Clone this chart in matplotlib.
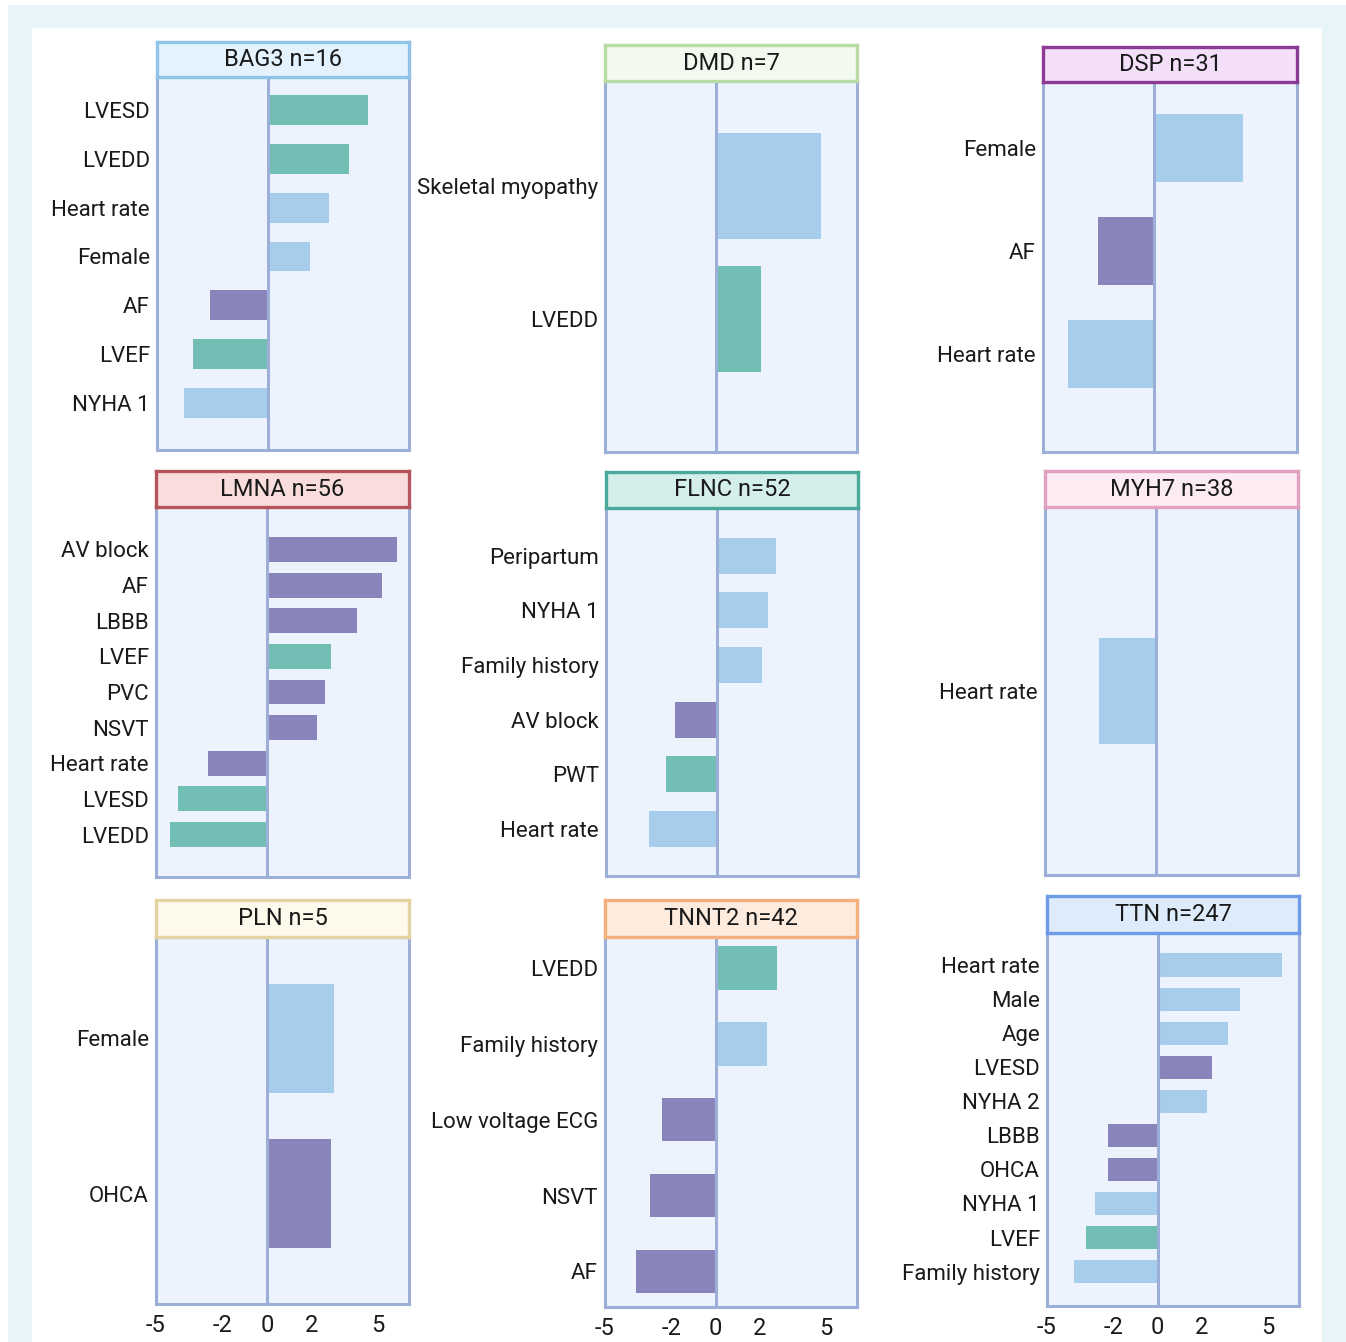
import numpy as np
import matplotlib
matplotlib.use("Agg")
import matplotlib.pyplot as plt
from matplotlib.patches import Rectangle

plt.rcParams["font.family"] = ["Roboto", "DejaVu Sans"]

# ---- data: standardised effect per feature, per gene ----
GENES = ["BAG3", "DMD", "DSP", "LMNA", "FLNC", "MYH7", "PLN", "TNNT2", "TTN"]
N_CARRIERS = [16, 7, 31, 56, 52, 38, 5, 42, 247]

BAG3_LABELS = ["LVESD", "LVEDD", "Heart rate", "Female", "AF", "LVEF", "NYHA 1"]
BAG3_VALUES = [4.55, 3.69, 2.79, 1.94, -2.61, -3.38, -3.78]
BAG3_GROUPS = ["echo", "echo", "clin", "clin", "ecg", "echo", "clin"]

DMD_LABELS = ["Skeletal myopathy", "LVEDD"]
DMD_VALUES = [4.77, 2.07]
DMD_GROUPS = ["clin", "echo"]

DSP_LABELS = ["Female", "AF", "Heart rate"]
DSP_VALUES = [3.96, -2.52, -3.87]
DSP_GROUPS = ["clin", "ecg", "clin"]

LMNA_LABELS = ["AV block", "AF", "LBBB", "LVEF", "PVC", "NSVT", "Heart rate", "LVESD", "LVEDD"]
LMNA_VALUES = [5.86, 5.18, 4.05, 2.88, 2.61, 2.25, -2.66, -4.00, -4.37]
LMNA_GROUPS = ["ecg", "ecg", "ecg", "echo", "ecg", "ecg", "ecg", "echo", "echo"]

FLNC_LABELS = ["Peripartum", "NYHA 1", "Family history", "AV block", "PWT", "Heart rate"]
FLNC_VALUES = [2.70, 2.34, 2.07, -1.89, -2.30, -3.06]
FLNC_GROUPS = ["clin", "clin", "clin", "ecg", "echo", "clin"]

MYH7_LABELS = ["Heart rate"]
MYH7_VALUES = [-2.57]
MYH7_GROUPS = ["clin"]

PLN_LABELS = ["Female", "OHCA"]
PLN_VALUES = [3.02, 2.88]
PLN_GROUPS = ["clin", "ecg"]

TNNT2_LABELS = ["LVEDD", "Family history", "Low voltage ECG", "NSVT", "AF"]
TNNT2_VALUES = [2.79, 2.34, -2.43, -2.97, -3.60]
TNNT2_GROUPS = ["echo", "clin", "ecg", "ecg", "ecg"]

TTN_LABELS = ["Heart rate", "Male", "Age", "LVESD", "NYHA 2", "LBBB", "OHCA",
              "NYHA 1", "LVEF", "Family history"]
TTN_VALUES = [5.63, 3.74, 3.20, 2.48, 2.25, -2.25, -2.25, -2.84, -3.24, -3.78]
TTN_GROUPS = ["clin", "clin", "clin", "ecg", "clin", "ecg", "ecg", "clin", "echo", "clin"]

X_TICKS = [-5, -2, 0, 2, 5]
X_TICK_LABELS = ["-5", "-2", "0", "2", "5"]

PANEL_DATA = {
    "BAG3": (BAG3_LABELS, BAG3_VALUES, BAG3_GROUPS),
    "DMD": (DMD_LABELS, DMD_VALUES, DMD_GROUPS),
    "DSP": (DSP_LABELS, DSP_VALUES, DSP_GROUPS),
    "LMNA": (LMNA_LABELS, LMNA_VALUES, LMNA_GROUPS),
    "FLNC": (FLNC_LABELS, FLNC_VALUES, FLNC_GROUPS),
    "MYH7": (MYH7_LABELS, MYH7_VALUES, MYH7_GROUPS),
    "PLN": (PLN_LABELS, PLN_VALUES, PLN_GROUPS),
    "TNNT2": (TNNT2_LABELS, TNNT2_VALUES, TNNT2_GROUPS),
    "TTN": (TTN_LABELS, TTN_VALUES, TTN_GROUPS),
}

# ---- styling ----
GROUP_COLORS = {"echo": "#72BDB4", "clin": "#A6CDEB", "ecg": "#8985BA"}
PANEL_FACE = "#EDF3FC"
PANEL_EDGE = "#9BAFD9"
TEXT = "#1A1A1A"

# title box (fill, edge) per gene
TITLE_STYLE = {
    "BAG3": ("#E3F2FD", "#8FC4E8"),
    "DMD": ("#F2F9EE", "#B8DCA3"),
    "DSP": ("#F3DFF7", "#8C3A94"),
    "LMNA": ("#F9DDDD", "#B5555B"),
    "FLNC": ("#D4EEEA", "#4BA99B"),
    "MYH7": ("#FDEBF4", "#E2A1BF"),
    "PLN": ("#FDF9EB", "#E3D3A1"),
    "TNNT2": ("#FDEBDD", "#F4AF7E"),
    "TTN": ("#DDEBFB", "#6F9CE6"),
}

# panel geometry in pixels: x0, x1, panel top, panel bottom, title top
GEOM = {
    "BAG3": (157, 409, 77, 450, 42),
    "DMD": (605, 857, 81, 452, 45),
    "DSP": (1043, 1297, 82, 452, 47),
    "LMNA": (156, 409, 507, 877, 471),
    "FLNC": (606, 858, 508, 876, 472),
    "MYH7": (1045, 1298, 507, 875, 471),
    "PLN": (156, 409, 937, 1304, 900),
    "TNNT2": (605, 857, 937, 1307, 900),
    "TTN": (1047, 1299, 933, 1306, 896),
}

# vertical padding above/below the bars (in category units) and bar thickness
VPAD = {
    "BAG3": (0.68, 0.97, 0.61),
    "DMD": (0.79, 1.00, 0.80),
    "DSP": (0.64, 0.95, 0.66),
    "LMNA": (1.19, 1.19, 0.70),
    "FLNC": (0.87, 0.86, 0.66),
    "MYH7": (1.38, 1.38, 0.80),
    "PLN": (0.65, 0.71, 0.70),
    "TNNT2": (0.41, 0.47, 0.57),
    "TTN": (0.94, 1.01, 0.68),
}
BOTTOM_ROW = {"PLN", "TNNT2", "TTN"}

W, H = 1346, 1342
fig = plt.figure(figsize=(W / 100, H / 100), dpi=100)
fig.patch.set_facecolor("white")

# outer frame
fig.add_artist(Rectangle((8 / W, 0), (W - 8) / W, (H - 5) / H,
                         transform=fig.transFigure, facecolor="#E8F5F8",
                         edgecolor="none", zorder=0))
fig.add_artist(Rectangle((32 / W, 0), (1322 - 32) / W, (H - 28) / H,
                         transform=fig.transFigure, facecolor="white",
                         edgecolor="none", zorder=0))


def rect(x0, x1, ytop, ybot):
    return [x0 / W, 1 - ybot / H, (x1 - x0) / W, (ybot - ytop) / H]


for gene, n in zip(GENES, N_CARRIERS):
    labels, values, groups = PANEL_DATA[gene]
    x0, x1, ptop, pbot, ttop = GEOM[gene]
    top_pad, bot_pad, bar_h = VPAD[gene]

    ax = fig.add_axes(rect(x0, x1, ptop, pbot))
    ax.set_facecolor(PANEL_FACE)
    pos = np.arange(len(labels))
    ax.barh(pos, values, height=bar_h,
            color=[GROUP_COLORS[g] for g in groups], zorder=2)
    ax.axvline(0, color=PANEL_EDGE, lw=2.2, zorder=3)
    ax.set_xlim(-5, 6.4)
    ax.set_ylim(len(labels) - 1 + bot_pad, -top_pad)
    ax.set_yticks(pos)
    ax.set_yticklabels(labels, fontsize=16, color=TEXT)
    ax.tick_params(axis="y", length=0, pad=5)
    for sp in ax.spines.values():
        sp.set_color(PANEL_EDGE)
        sp.set_linewidth(2.2)
    if gene in BOTTOM_ROW:
        ax.set_xticks(X_TICKS)
        ax.set_xticklabels(X_TICK_LABELS, fontsize=17, color=TEXT)
        ax.tick_params(axis="x", length=0, pad=7)
    else:
        ax.set_xticks([])

    fill, edge = TITLE_STYLE[gene]
    tax = fig.add_axes(rect(x0, x1, ttop, ptop))
    tax.set_facecolor(fill)
    tax.set_xticks([])
    tax.set_yticks([])
    for sp in tax.spines.values():
        sp.set_color(edge)
        sp.set_linewidth(2.4)
    tax.text(0.5, 0.5, f"{gene} n={n}", ha="center", va="center",
             fontsize=17, color=TEXT, transform=tax.transAxes)

fig.savefig("out.png", dpi=100, facecolor=fig.get_facecolor())
